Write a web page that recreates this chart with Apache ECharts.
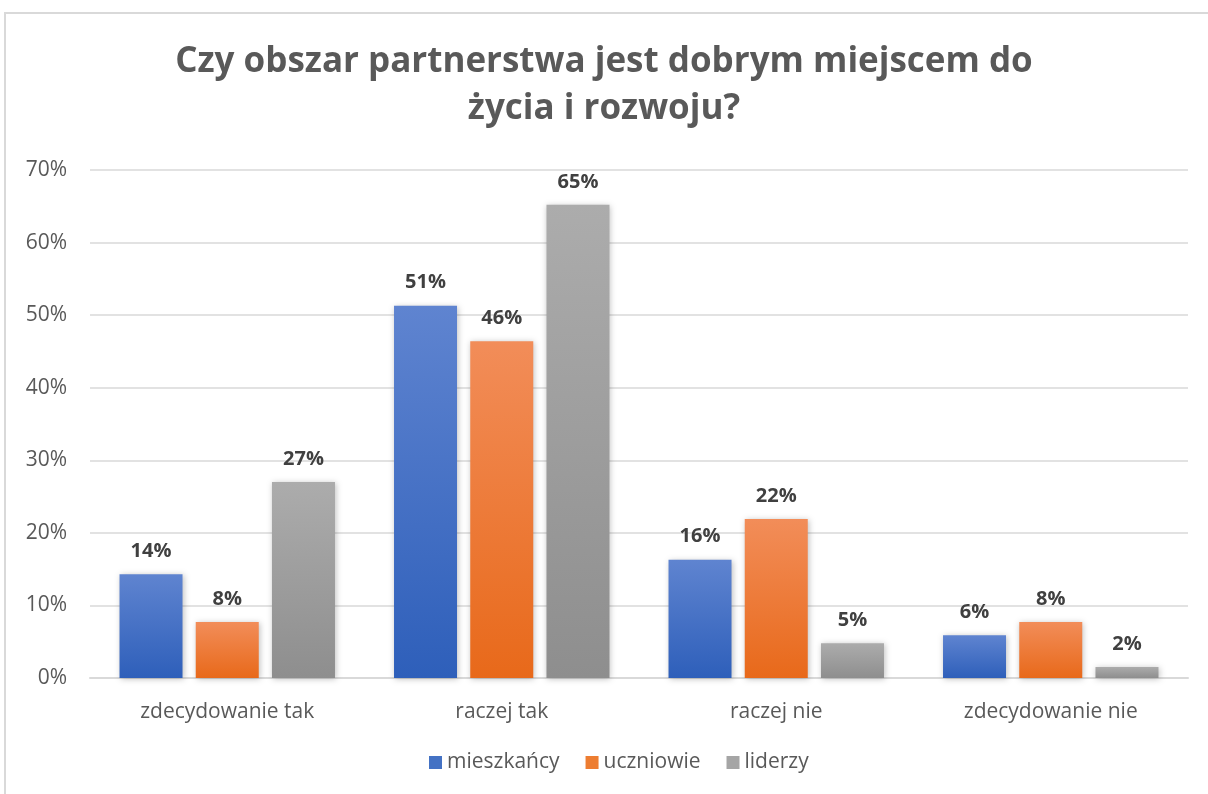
<!DOCTYPE html>
<html>
<head>
<meta charset="utf-8">
<script src="https://cdn.jsdelivr.net/npm/echarts@6/dist/echarts.min.js"></script>
<style>
  html, body { margin: 0; padding: 0; background: #fff; }
  #frame { position: absolute; left: 4px; top: 12px; width: 1220px; height: 800px;
           border-left: 2px solid #d9d9d9; border-top: 2px solid #d9d9d9; box-sizing: border-box; }
  #chart { position: absolute; left: 0; top: 0; width: 1208px; height: 794px; }
</style>
</head>
<body>
<div id="frame"></div>
<div id="chart"></div>
<script>
const titleText = 'Czy obszar partnerstwa jest dobrym miejscem do\nżycia i rozwoju?';
const categories = ['zdecydowanie tak', 'raczej tak', 'raczej nie', 'zdecydowanie nie'];
const seriesNames = ['mieszkańcy', 'uczniowie', 'liderzy'];
const mieszkancy = [14.3, 51.3, 16.3, 5.9];
const uczniowie = [7.7, 46.4, 21.9, 7.7];
const liderzy = [27.0, 65.2, 4.8, 1.5];
const yTicks = [0, 10, 20, 30, 40, 50, 60, 70];

const gradients = [
  ['#5f84d0', '#2e5fba'],
  ['#f28d59', '#e8691a'],
  ['#acacac', '#8e8e8e']
];
const legendColors = ['#4472c4', '#ed7d31', '#a5a5a5'];
const values = [mieszkancy, uczniowie, liderzy];

const chart = echarts.init(document.getElementById('chart'), null, { renderer: 'canvas' });

const series = values.map((data, i) => ({
  name: seriesNames[i],
  type: 'bar',
  data: data,
  barWidth: 63,
  barGap: '21%',
  itemStyle: {
    color: new echarts.graphic.LinearGradient(0, 0, 0, 1, [
      { offset: 0, color: gradients[i][0] },
      { offset: 1, color: gradients[i][1] }
    ]),
    shadowColor: 'rgba(0,0,0,0.25)',
    shadowBlur: 6,
    shadowOffsetX: 1,
    shadowOffsetY: 1
  },
  label: {
    show: true,
    position: 'top',
    distance: 13,
    formatter: p => Math.round(p.value) + '%',
    fontFamily: 'Open Sans',
    fontWeight: 'bold',
    fontSize: 20,
    color: '#404040'
  }
}));

chart.setOption({
  animation: false,
  title: {
    text: titleText,
    left: 'center',
    top: 34,
    textStyle: {
      fontFamily: 'Open Sans',
      fontWeight: 'bold',
      fontSize: 35,
      color: '#595959',
      lineHeight: 47
    }
  },
  legend: {
    data: seriesNames.map((n, i) => ({ name: n, itemStyle: { color: legendColors[i] } })),
    bottom: 16,
    left: 424,
    itemWidth: 13,
    itemHeight: 13,
    itemGap: 26,
    icon: 'rect',
    textStyle: { fontFamily: 'Open Sans', fontSize: 21, color: '#595959' }
  },
  grid: { left: 90, right: 20, top: 170, bottom: 116, containLabel: false },
  xAxis: {
    type: 'category',
    data: categories,
    axisLine: { show: true, lineStyle: { color: '#d9d9d9', width: 2 } },
    axisTick: { show: false },
    axisLabel: { fontFamily: 'Open Sans', fontSize: 21, color: '#595959', margin: 24 }
  },
  yAxis: {
    type: 'value',
    min: yTicks[0],
    max: yTicks[yTicks.length - 1],
    interval: 10,
    axisLine: { show: false },
    axisTick: { show: false },
    splitLine: { lineStyle: { color: '#d9d9d9', width: 1.5 } },
    axisLabel: {
      fontFamily: 'Open Sans', fontSize: 21, color: '#595959', margin: 23,
      formatter: v => v + '%'
    }
  },
  series: series
});
</script>
</body>
</html>
